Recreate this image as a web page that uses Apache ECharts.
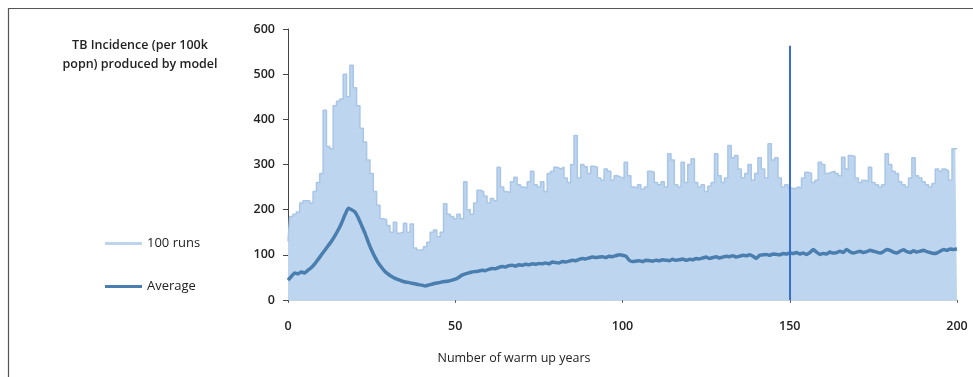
<!DOCTYPE html>
<html><head><meta charset="utf-8">
<script src="https://cdn.jsdelivr.net/npm/echarts@6/dist/echarts.min.js"></script>
<style>html,body{margin:0;padding:0;background:#fff}#c{width:973px;height:377px}</style>
</head><body><div id="c"></div>
<script>
// Years 0..200 (index = year)
const runsMax = [130,185,190,195,215,220,220,215,240,260,280,
420,340,335,430,440,445,500,450,520,470,430,380,350,310,280,240,210,180,178,165,
150,172,148,150,170,150,168,115,110,112,118,128,150,155,140,150,213,190,185,180,
190,180,262,200,190,215,243,240,230,215,225,220,294,250,240,238,262,272,255,250,
248,262,285,255,250,262,240,280,285,294,290,294,270,260,300,364,270,300,295,280,
296,294,270,265,290,285,265,275,272,270,305,275,250,248,255,245,250,285,283,260,
255,262,250,324,310,255,250,305,260,300,313,260,250,255,240,252,260,324,275,260,
270,342,315,320,290,270,280,300,265,280,315,290,270,346,310,315,270,250,255,248,
246,250,248,270,283,280,260,265,305,300,280,283,285,280,275,316,290,320,318,270,
260,265,262,294,260,255,250,255,324,300,285,280,262,255,250,270,315,275,270,262,
255,250,258,290,285,290,286,265,335,335];
const average = [44,52,60,58,62,60,66,72,80,90,100,
110,120,130,142,155,170,188,203,200,195,182,165,148,128,110,95,82,72,63,57,
52,48,45,42,40,39,37,36,34,33,31,33,35,37,38,40,41,42,44,46,
50,55,58,60,62,63,64,66,65,68,70,69,72,74,73,76,77,75,78,77,
79,78,80,79,81,80,82,80,84,83,82,85,84,86,88,87,90,92,91,93,
95,94,95,96,94,97,96,98,100,99,97,88,85,86,87,85,88,87,86,88,
87,89,88,87,90,88,89,91,88,90,89,92,91,93,95,92,94,96,93,95,
97,96,98,95,97,99,98,100,97,92,99,100,101,99,102,101,100,103,102,104,
103,105,102,104,101,105,112,106,101,103,102,106,104,105,108,105,112,107,104,106,
108,105,107,110,108,106,104,107,112,110,106,104,108,111,107,105,109,106,108,110,
107,105,103,104,108,112,110,113,112,113];
const yTicks = {min:0, max:600, step:100};
const xTicks = {min:0, max:200, step:50};
const markYear = 150, markTop = 563;
const seriesNames = ['100 runs','Average'];
const titleLines = ['TB Incidence (per 100k','popn) produced by model'];
const xTitle = 'Number of warm up years';

const chart = echarts.init(document.getElementById('c'));
const font = 'Open Sans';
chart.setOption({
  animation:false,
  backgroundColor:'#fff',
  grid:{left:288,right:16,top:29,bottom:77},
  legend:{
    orient:'vertical', left:100, top:232, itemGap:30, itemWidth:37, itemHeight:3,
    textStyle:{fontFamily:font,fontSize:13,color:'#222'},
    data:[{name:seriesNames[0],icon:'rect',itemStyle:{color:'#bcd4ee'}},
          {name:seriesNames[1],icon:'rect',itemStyle:{color:'#4a7eae'}}]
  },
  xAxis:{type:'value',min:xTicks.min,max:xTicks.max,interval:xTicks.step,
    axisLine:{lineStyle:{color:'#c8d4e2',width:1}},
    axisTick:{show:true,length:3,lineStyle:{color:'#666'}},
    splitLine:{show:false},
    axisLabel:{margin:20,fontFamily:font,fontSize:12.5,fontWeight:600,color:'#222'}},
  yAxis:{type:'value',min:yTicks.min,max:yTicks.max,interval:yTicks.step,
    axisLine:{show:true,lineStyle:{color:'#444',width:1}},
    axisTick:{show:true,length:5,lineStyle:{color:'#444'}},
    splitLine:{show:false},
    axisLabel:{margin:13,fontFamily:font,fontSize:12.5,fontWeight:600,color:'#222'}},
  graphic:[
    {type:'rect',shape:{x:8.5,y:8.5,width:1200,height:1200},style:{fill:'none',stroke:'#555',lineWidth:1.2},silent:true},
    {type:'text',style:{x:140,y:45,text:titleLines[0],textAlign:'center',textVerticalAlign:'middle',font:'600 12.5px "Open Sans"',fill:'#222'}},
    {type:'text',style:{x:140,y:64,text:titleLines[1],textAlign:'center',textVerticalAlign:'middle',font:'600 12.5px "Open Sans"',fill:'#222'}},
    {type:'text',style:{x:514,y:358,text:xTitle,textAlign:'center',textVerticalAlign:'middle',font:'12.5px "Open Sans"',fill:'#222'}}
  ],
  series:[
    {name:seriesNames[0],type:'line',step:'middle',symbol:'none',
     data:runsMax.map((v,i)=>[i,v]),
     lineStyle:{color:'#a9c6e6',width:1.5},
     areaStyle:{color:'#bdd5ee',opacity:1},
     itemStyle:{color:'#bcd4ee'},z:2},
    {name:seriesNames[1],type:'line',symbol:'none',smooth:0.15,
     data:average.map((v,i)=>[i,v]),
     lineStyle:{color:'#4a7eae',width:3.5},
     itemStyle:{color:'#4a7eae'},z:3,
     markLine:{silent:true,symbol:'none',label:{show:false},
       lineStyle:{color:'#3a6fd2',width:2,type:'solid'},
       data:[[{coord:[markYear,0]},{coord:[markYear,markTop]}]]}}
  ]
});
</script></body></html>
